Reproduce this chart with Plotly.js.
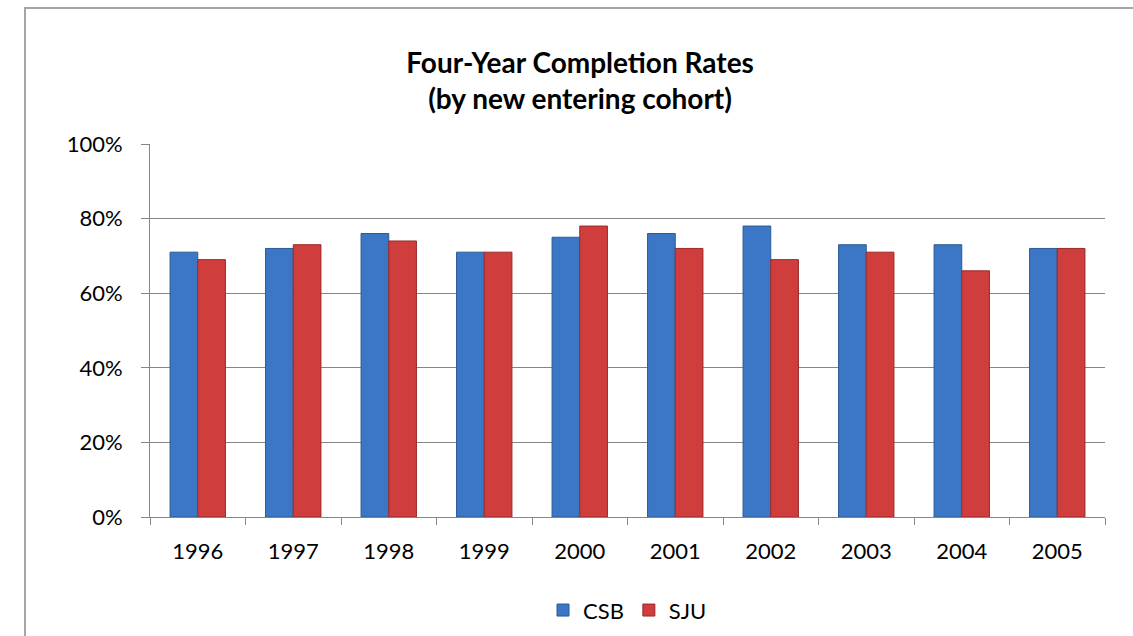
<!DOCTYPE html>
<html>
<head>
<meta charset="utf-8">
<script src="https://cdn.plot.ly/plotly-3.0.1.min.js"></script>
<style>
  html, body { margin: 0; padding: 0; background: #fff; overflow: hidden; }
  #chart { position: absolute; left: 0; top: 0; width: 1133px; height: 636px; }
  #frame { position: absolute; left: 24px; top: 7px; width: 1200px; height: 700px;
           border-left: 2px solid #a6a6a6; border-top: 2px solid #a6a6a6; pointer-events: none; }
</style>
</head>
<body>
<div id="chart"></div>
<div id="frame"></div>
<script>
const years = ['1996','1997','1998','1999','2000','2001','2002','2003','2004','2005'];
const csb = [0.71, 0.72, 0.76, 0.71, 0.75, 0.76, 0.78, 0.73, 0.73, 0.72];
const sju = [0.69, 0.73, 0.74, 0.71, 0.78, 0.72, 0.69, 0.71, 0.66, 0.72];
const seriesNames = ['CSB', 'SJU'];

const font = 'Lato, Calibri, "Open Sans", sans-serif';

const traces = [
  { type: 'bar', name: seriesNames[0], x: years, y: csb,
    marker: { color: '#3c77c6', line: { color: '#2b5a96', width: 1 } }, hoverinfo: 'y' },
  { type: 'bar', name: seriesNames[1], x: years, y: sju,
    marker: { color: '#d03d3d', line: { color: '#9a2a2a', width: 1 } }, hoverinfo: 'y' }
];

const layout = {
  width: 1133, height: 636,
  margin: { l: 150, r: 28, t: 144, b: 119, autoexpand: false },
  paper_bgcolor: '#ffffff', plot_bgcolor: '#ffffff',
  font: { family: font, color: '#000', size: 22 },
  barmode: 'group', bargap: 0.42, bargroupgap: 0,
  title: { text: '<b>Four-Year Completion Rates<br>(by new entering cohort)</b>',
           font: { family: font, size: 28, color: '#000' },
           xref: 'container', x: 0.512, xanchor: 'center',
           yref: 'container', y: 0.886, yanchor: 'middle' },
  xaxis: { type: 'category', showline: true, linecolor: '#868686', linewidth: 1,
           ticks: 'outside', tickson: 'boundaries', ticklen: 7, tickcolor: '#868686',
           showgrid: false, ticklabelstandoff: 15, tickfont: { size: 22 }, automargin: false },
  yaxis: { range: [0, 1], dtick: 0.2, tickformat: '.0%', showline: true,
           linecolor: '#868686', linewidth: 1, ticks: 'outside', ticklen: 8,
           tickcolor: '#868686', showgrid: true, gridcolor: '#868686', gridwidth: 1,
           zeroline: false, ticklabelstandoff: 14, tickfont: { size: 22 }, automargin: false },
  showlegend: true,
  legend: { orientation: 'h', x: 0.5, xanchor: 'center', y: -0.25, yanchor: 'middle',
            font: { size: 22 }, itemwidth: 30, traceorder: 'normal' }
};

Plotly.newPlot('chart', traces, layout, { displayModeBar: false, staticPlot: true });
</script>
</body>
</html>
